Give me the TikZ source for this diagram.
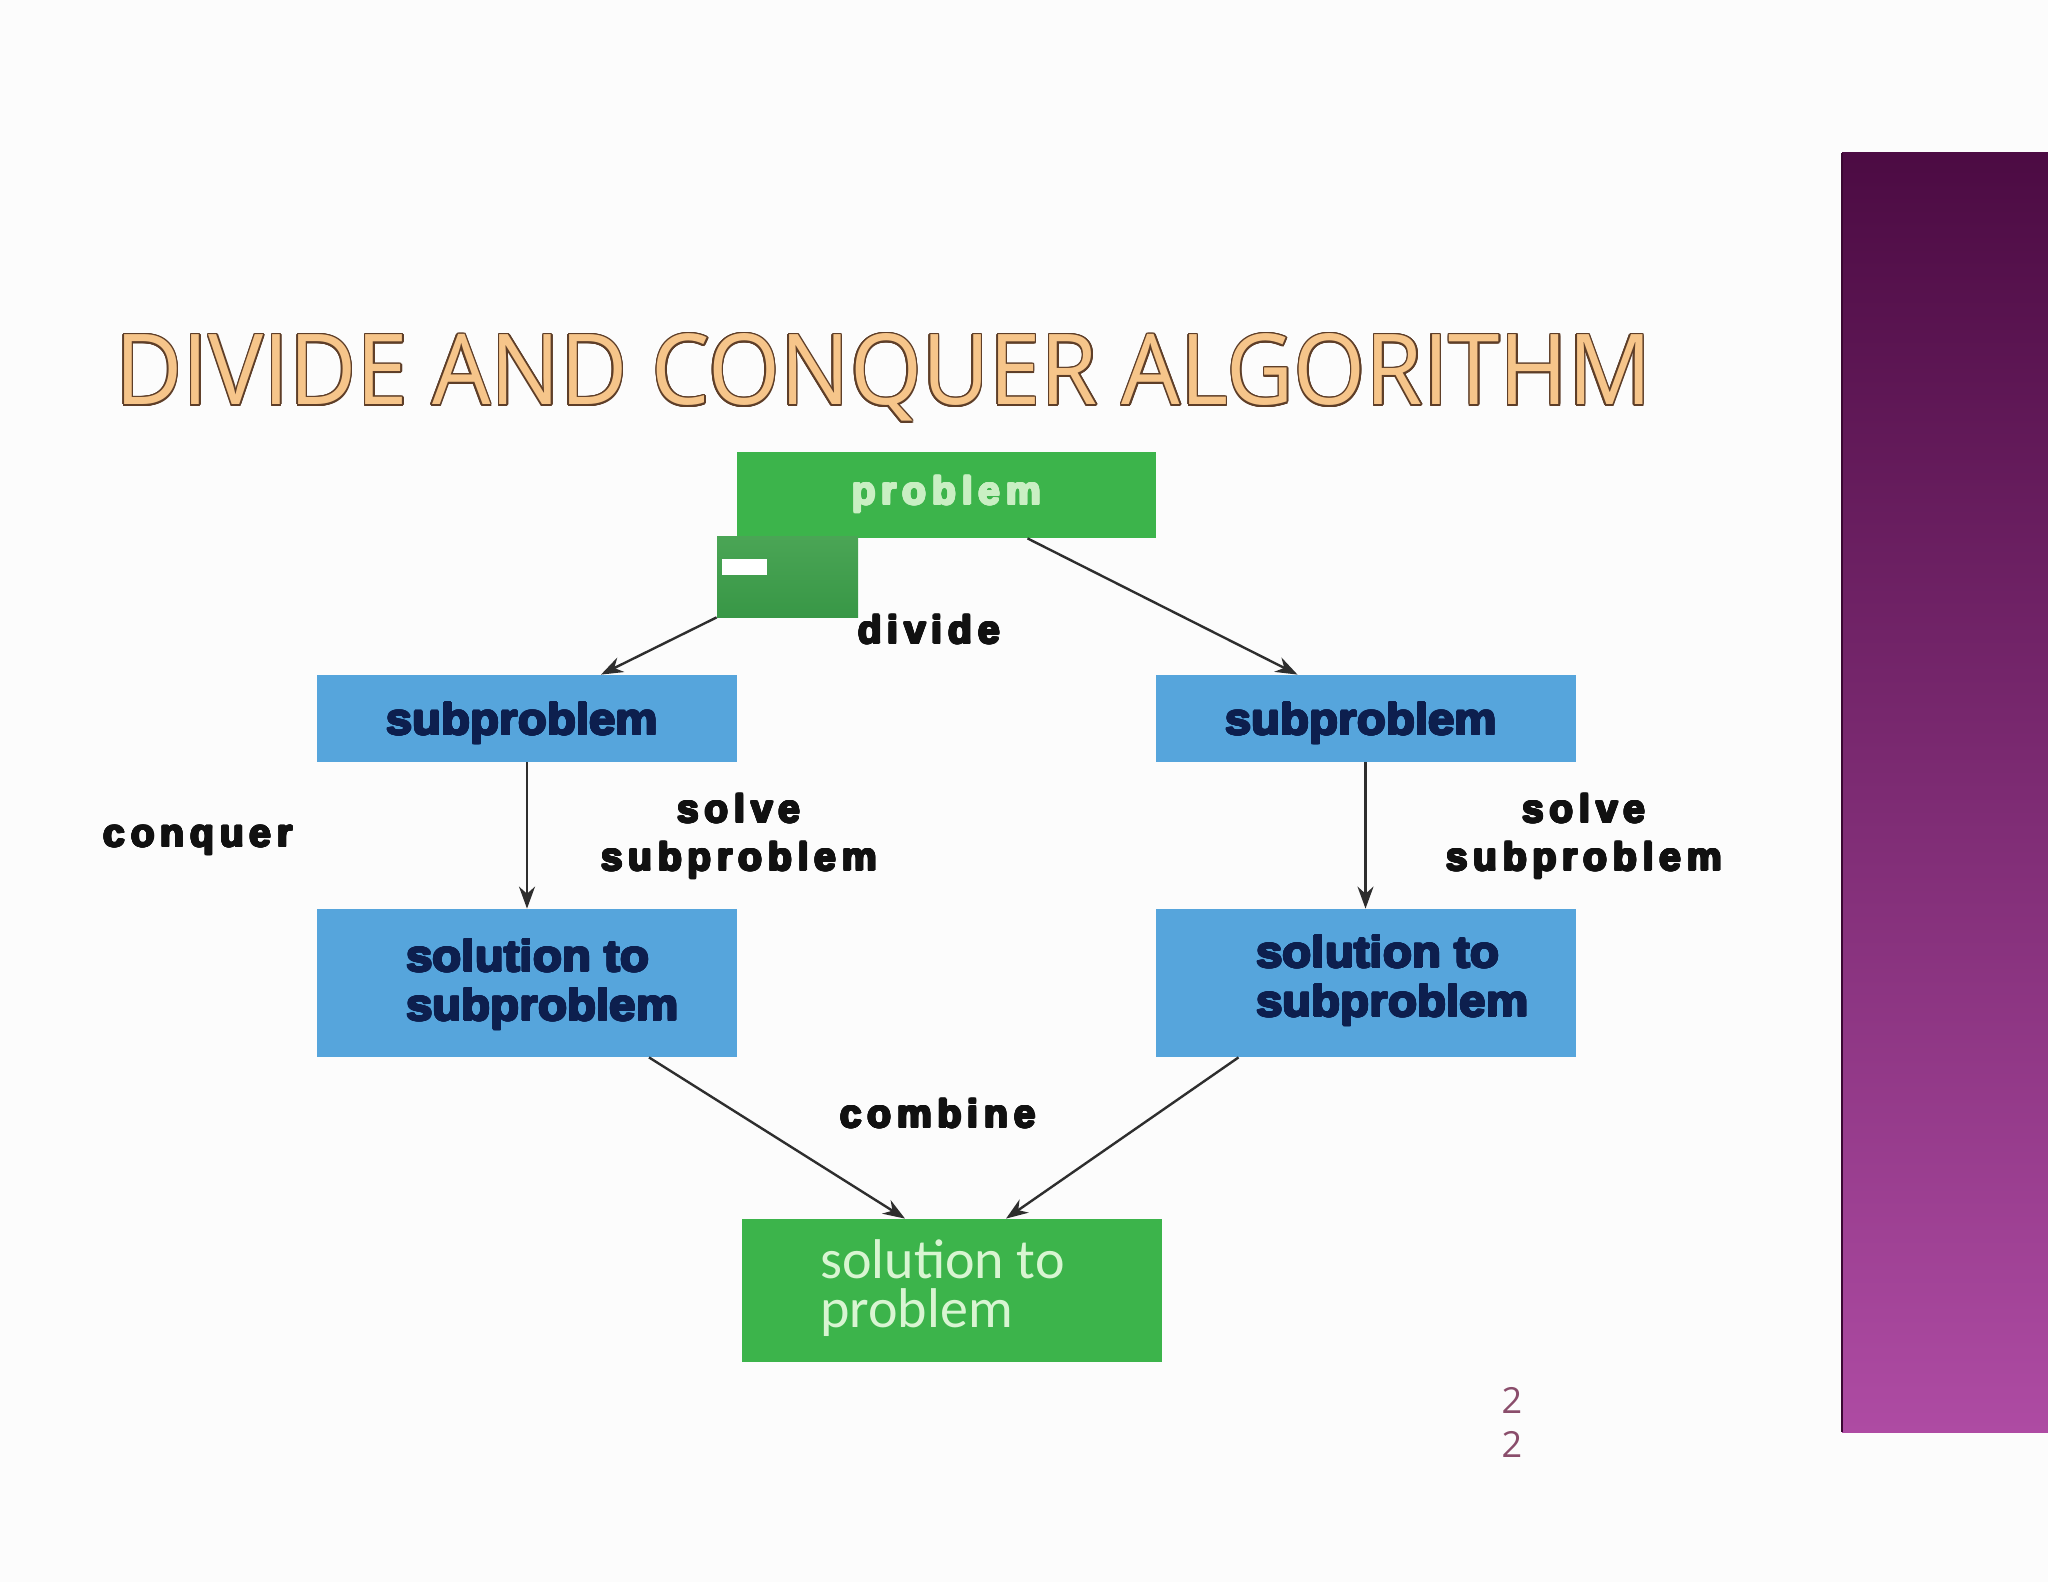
\documentclass[tikz,border=0pt]{standalone}
\usepackage{fontspec}
\usepackage[copies]{contour}
\usetikzlibrary{arrows.meta,calc}
\newfontfamily\titlefont{Open Sans}
\newfontfamily\boxfont[FakeStretch=1.08]{Liberation Sans Bold}
\newfontfamily\lblfont[LetterSpace=15]{Liberation Sans Bold}
\newfontfamily\calfont{Carlito}
\newfontfamily\numfont{Open Sans}
\definecolor{bg}{HTML}{FCFCFC}
\definecolor{boxgreen}{HTML}{3CB44B}
\definecolor{mingreenA}{HTML}{4AA555}
\definecolor{mingreenB}{HTML}{389746}
\definecolor{boxblue}{HTML}{56A5DC}
\definecolor{navy}{HTML}{0D1F4E}
\definecolor{probtext}{HTML}{C9EFC3}
\definecolor{finaltext}{HTML}{D8F5D2}
\definecolor{arrgray}{HTML}{2E2E2E}
\definecolor{titlefill}{HTML}{F6C58A}
\definecolor{titleline}{HTML}{5E3E28}
\definecolor{pagenum}{HTML}{8A4D6B}
\definecolor{purpA}{HTML}{4C0B43}
\definecolor{purpB}{HTML}{983190}
\definecolor{purpC}{HTML}{AE4BA3}
\definecolor{purpedge}{HTML}{3A0832}
\definecolor{lbltext}{HTML}{111111}
\contourlength{0.8pt}
\newcommand\hv[1]{{\contourlength{0.5pt}\contour{.}{#1}}}
\begin{document}
\begin{tikzpicture}[x=0.5pt,y=-0.5pt,
  greenbox/.style={fill=boxgreen,inner sep=0pt,minimum width=209.5pt,minimum height=43pt},
  bluebox/.style={fill=boxblue,inner sep=0pt,minimum width=210pt},
  boxtxt/.style={font=\boxfont\fontsize{22pt}{24.5pt}\selectfont,text=navy,inner sep=0pt,align=left},
  lbl/.style={font=\lblfont\fontsize{19.5pt}{24pt}\selectfont,text=lbltext,inner sep=0pt,align=center},
  arr/.style={draw=arrgray,line width=1.2pt,-{Stealth[length=11pt,width=8pt]}}]
\useasboundingbox (0,0) rectangle (2048,1582);
\fill[bg] (0,0) rectangle (2048,1582);
% purple side bar
\shade[top color=purpA,middle color=purpB,bottom color=purpC] (1842,153) rectangle (2048,1432);
\draw[purpedge,line width=1pt] (1842,153) -- (1842,1432);
% title
\node[anchor=base west,inner sep=0pt] (title) at (115,405)
  {\resizebox{768pt}{35.5pt}{\titlefont\fontsize{50pt}{54pt}\selectfont\contour{titleline}{\textcolor{titlefill}{DIVIDE AND CONQUER ALGORITHM}}}};
% boxes
\node[greenbox,font=\lblfont\fontsize{19.5pt}{24pt}\selectfont,text=probtext] (prob) at (946.5,495) {\hv{problem}};
\node[shade,top color=mingreenA,bottom color=mingreenB,inner sep=0pt,minimum width=70.5pt,minimum height=40pt] (minbox) at (787.5,577) {};
\node[fill=white,inner sep=0pt,minimum width=22.5pt,minimum height=8pt] (minbar) at (744.5,567) {};
\node[bluebox,minimum height=43.5pt] (sub1) at (527,718.5) {};
\node[boxtxt] (sub1t) at (522,724) {\hv{subproblem}};
\node[bluebox,minimum height=43.5pt] (sub2) at (1365.5,718.5) {};
\node[boxtxt] (sub2t) at (1361,724) {\hv{subproblem}};
\node[bluebox,minimum height=74pt] (sol1) at (527,983) {};
\node[boxtxt,anchor=west] (sol1t) at (406,985) {\hv{solution to}\\\hv{subproblem}};
\node[bluebox,minimum height=74pt] (sol2) at (1365.5,983) {};
\node[boxtxt,anchor=west] (sol2t) at (1256,981) {\hv{solution to}\\\hv{subproblem}};
\node[fill=boxgreen,inner sep=0pt,minimum width=210pt,minimum height=71.5pt] (final) at (952,1290.5) {};
\node[anchor=west,inner sep=0pt,align=left,text=finaltext,font=\calfont\fontsize{28pt}{24.5pt}\selectfont] (finalt) at (820,1288) {solution to\\problem};
% labels
\node[lbl] (divide) at (929,630) {\hv{divide}};
\node[lbl] (conquer) at (198,841) {\hv{conquer}};
\node[lbl] (solve1) at (739,837) {\hv{solve}\\\hv{subproblem}};
\node[lbl] (solve2) at (1584,837) {\hv{solve}\\\hv{subproblem}};
\node[lbl] (combine) at (938,1114) {\hv{combine}};
% page number
\node[text=pagenum,inner sep=0pt,align=center,font=\numfont\fontsize{18pt}{22pt}\selectfont] (pnum) at (1512,1422) {2\\2};
% arrows
\draw[arr] (minbox.south west) -- ($(sub1.north)+(74,0)$);
\draw[arr] ($(prob.south)+(81,0)$) -- ($(sub2.north)+(-68,0)$);
\draw[arr] (sub1.south) -- (sol1.north);
\draw[arr] (sub2.south) -- (sol2.north);
\draw[arr] ($(sol1.south)+(122,0)$) -- ($(final.north)+(-47,0)$);
\draw[arr] ($(sol2.south)+(-127,0)$) -- ($(final.north)+(54,0)$);
\end{tikzpicture}
\end{document}
